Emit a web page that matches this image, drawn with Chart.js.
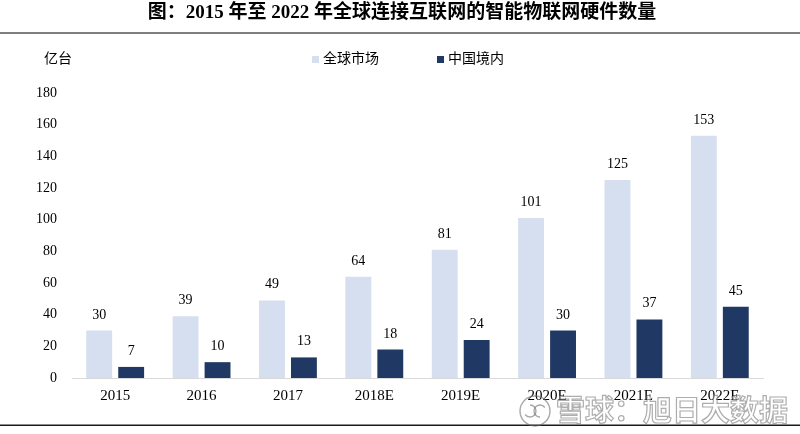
<!DOCTYPE html>
<html>
<head>
<meta charset="utf-8">
<script src="https://cdn.jsdelivr.net/npm/chart.js@4.4.0/dist/chart.umd.min.js"></script>
<style>
  html, body { margin: 0; padding: 0; background: #ffffff; }
  #wrap { width: 800px; height: 434px; position: relative; }
</style>
</head>
<body>
<div id="wrap"><canvas id="c" width="800" height="434"></canvas></div>
<script>
const categories = ["2015", "2016", "2017", "2018E", "2019E", "2020E", "2021E", "2022E"];
const globalMarket = [30, 39, 49, 64, 81, 101, 125, 153];
const chinaMarket = [7, 10, 13, 18, 24, 30, 37, 45];
const seriesNames = ["全球市场", "中国境内"];
const yTicks = [0, 20, 40, 60, 80, 100, 120, 140, 160, 180];
const titleText = "图：2015 年至 2022 年全球连接互联网的智能物联网硬件数量";
const unitText = "亿台";
const watermarkText = "雪球：旭日大数据";

const FONT = "'Liberation Serif', 'Noto Sans CJK SC', serif";
const LIGHT = "#d5dff0";
const DARK = "#203864";

Chart.defaults.font.family = FONT;
Chart.defaults.color = "#000000";

const decorPlugin = {
  id: "decor",
  afterDraw(chart) {
    const ctx = chart.ctx;
    ctx.save();
    // title
    ctx.fillStyle = "#000";
    ctx.font = "bold 19px " + FONT;
    ctx.textAlign = "center";
    ctx.textBaseline = "middle";
    ctx.fillText(titleText, 402, 13);
    // top rule
    ctx.fillStyle = "#7f7f7f";
    ctx.fillRect(0, 32, 800, 2);
    // bottom rule
    ctx.fillStyle = "#1a1a1a";
    ctx.fillRect(0, 424.5, 800, 1.5);
    // unit
    ctx.fillStyle = "#000";
    ctx.font = "14px " + FONT;
    ctx.textAlign = "left";
    ctx.fillText(unitText, 44, 59);
    // legend
    const items = chart.data.datasets;
    const xs = [312, 437];
    items.forEach((ds, i) => {
      ctx.fillStyle = ds.backgroundColor;
      ctx.fillRect(xs[i], 56, 7, 7);
      ctx.fillStyle = "#000";
      ctx.font = "14px " + FONT;
      ctx.textAlign = "left";
      ctx.fillText(ds.label, xs[i] + 11, 59.5);
    });
    // watermark
    ctx.globalAlpha = 0.6;
    ctx.strokeStyle = "#6e6e6e";
    ctx.lineWidth = 1.4;
    ctx.beginPath();
    ctx.arc(535, 411, 15, 0, Math.PI * 2);
    ctx.stroke();
    ctx.beginPath();
    ctx.arc(530, 411, 6, -0.5 * Math.PI, 0.8 * Math.PI);
    ctx.stroke();
    ctx.beginPath();
    ctx.arc(540, 411, 6, 0.5 * Math.PI, 1.8 * Math.PI);
    ctx.stroke();
    ctx.font = "bold 29px 'Noto Sans CJK SC', sans-serif";
    ctx.textAlign = "left";
    ctx.textBaseline = "middle";
    ctx.fillStyle = "rgba(255,255,255,0.7)";
    ctx.fillText(watermarkText, 556, 410);
    ctx.strokeStyle = "#777";
    ctx.lineWidth = 1.2;
    ctx.strokeText(watermarkText, 556, 410);
    ctx.restore();
  },
  afterDatasetsDraw(chart) {
    const ctx = chart.ctx;
    ctx.save();
    ctx.fillStyle = "#000";
    ctx.font = "14px " + FONT;
    ctx.textAlign = "center";
    ctx.textBaseline = "alphabetic";
    chart.data.datasets.forEach((ds, di) => {
      const meta = chart.getDatasetMeta(di);
      meta.data.forEach((bar, i) => {
        ctx.fillText(String(ds.data[i]), bar.x, bar.y - 12);
      });
    });
    ctx.restore();
  }
};

new Chart(document.getElementById("c"), {
  type: "bar",
  data: {
    labels: categories,
    datasets: [
      { label: seriesNames[0], data: globalMarket, backgroundColor: LIGHT },
      { label: seriesNames[1], data: chinaMarket, backgroundColor: DARK }
    ]
  },
  options: {
    responsive: false,
    animation: false,
    devicePixelRatio: 1,
    categoryPercentage: 0.74,
    barPercentage: 0.81,
    layout: { padding: { top: 93, right: 37, bottom: 20, left: 0 } },
    plugins: {
      legend: { display: false },
      title: { display: false },
      tooltip: { enabled: false }
    },
    scales: {
      x: {
        grid: { display: false, drawTicks: false },
        border: { display: true, color: "#d9d9d9", width: 1 },
        ticks: { font: { size: 15 }, color: "#000", padding: 9 }
      },
      y: {
        min: 0,
        max: 180,
        afterFit(scale) { scale.width = 72; },
        afterBuildTicks(scale) { scale.ticks = yTicks.map(v => ({ value: v })); },
        grid: { display: false, drawTicks: false },
        border: { display: false },
        ticks: { font: { size: 14 }, color: "#000", padding: 15 }
      }
    }
  },
  plugins: [decorPlugin]
});
</script>
</body>
</html>
